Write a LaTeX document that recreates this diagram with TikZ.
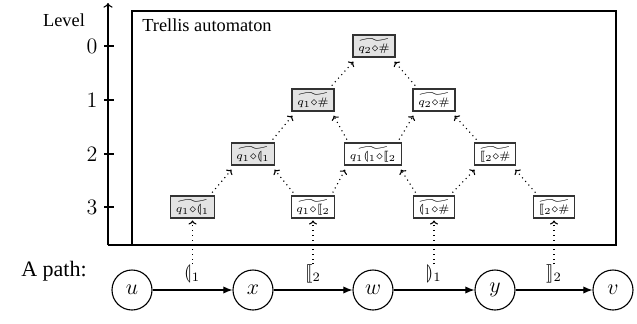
\documentclass[tikz,border=0pt]{standalone}
\usepackage[no-math]{fontspec}
\setmainfont{Liberation Serif}
\usepackage{amsmath,amssymb}
\usepackage{stmaryrd}
\usetikzlibrary{arrows.meta}
\newcommand{\dmd}{\mathord{\diamond}}
\tikzset{
  tbox/.style={draw=black!80, line width=0.7pt, font=\fontsize{6}{7}\selectfont,
    inner xsep=2.8pt, inner ysep=1pt, minimum height=12pt},
  tshade/.style={tbox, fill=gray!22},
  pnode/.style={circle, draw, line width=0.6pt, minimum size=21.8pt, inner sep=0pt,
    font=\fontsize{12}{14}\selectfont},
  trarrow/.style={dotted, line width=0.6pt, -{To[length=2.2pt,width=4.4pt]}},
  upar/.style={dotted, line width=0.6pt, -{To[length=2.2pt,width=4.4pt]}, shorten >=1pt},
  patharrow/.style={line width=0.6pt, -{Latex[length=5pt,width=4pt]}},
  plab/.style={inner sep=0pt, font=\fontsize{10}{12}\selectfont},
  lvl/.style={inner sep=0pt, font=\fontsize{12}{14}\selectfont},
  txt/.style={inner sep=0pt, font=\fontsize{10}{12}\selectfont},
}
\begin{document}
\begin{tikzpicture}[x=0.545pt, y=-0.545pt]
\useasboundingbox (0,0) rectangle (637,323);
% axis
\coordinate (ax0) at (108,245);
\coordinate (ax1) at (108,3);
\coordinate (bx0) at (132,11);
\coordinate (bx1) at (616,245);
\draw[line width=0.6pt, -{To[length=2.5pt,width=5pt]}] (ax0) -- (ax1);
\draw[line width=0.6pt] (ax0) -- (bx0 |- ax0);
\draw[line width=0.6pt] (bx0) rectangle (bx1);
\node[txt] (levtxt) at (64,20) {Level};
\node[txt, anchor=west] (title) at (142,25) {Trellis automaton};
\foreach \l/\yy in {0/46,1/100,2/154,3/207}{
  \coordinate (tk\l) at (108,\yy);
  \draw[line width=0.6pt] ([xshift=-2pt]tk\l) -- ([xshift=3pt]tk\l);
  \node[lvl] (lv\l) at (92,\yy) {$\l$};
}
% trellis nodes
\node[tshade] (a00) at (374,46) {$\widetilde{q_2\dmd\#}$};
\node[tshade] (a10) at (313,100) {$\widetilde{q_1\dmd\#}$};
\node[tbox]   (a11) at (434,100) {$\widetilde{q_2\dmd\#}$};
\node[tshade] (a20) at (253,154) {$\widetilde{q_1\dmd\llparenthesis_1}$};
\node[tbox]   (a21) at (373,154) {$\widetilde{q_1\llparenthesis_1\dmd\llbracket_2}$};
\node[tbox]   (a22) at (495,154) {$\widetilde{\llbracket_2\dmd\#}$};
\node[tshade] (a30) at (192.5,207) {$\widetilde{q_1\dmd\llparenthesis_1}$};
\node[tbox]   (a31) at (313,207) {$\widetilde{q_1\dmd\llbracket_2}$};
\node[tbox]   (a32) at (434,207) {$\widetilde{\llparenthesis_1\dmd\#}$};
\node[tbox]   (a33) at (554,207) {$\widetilde{\llbracket_2\dmd\#}$};
% trellis arrows
\foreach \lo/\up in {a30/a20,a31/a21,a32/a22,a20/a10,a21/a11,a10/a00}{
  \draw[trarrow] ([xshift=-1.5pt,yshift=1.5pt]\lo.north east) -- ([xshift=0.5pt,yshift=-2.2pt]\up.south west);
}
\foreach \lo/\up in {a31/a20,a32/a21,a33/a22,a21/a10,a22/a11,a11/a00}{
  \draw[trarrow] ([xshift=1.5pt,yshift=1.5pt]\lo.north west) -- ([xshift=-0.5pt,yshift=-2.2pt]\up.south east);
}
% path
\node[txt, font=\fontsize{12}{14}\selectfont] (ptxt) at (54,271) {A path:};
\node[pnode] (u) at (132,290) {$u$};
\node[pnode] (x) at (253,290) {$x$};
\node[pnode] (w) at (373,290) {$w$};
\node[pnode] (y) at (495,290) {$y$};
\node[pnode] (v) at (613,290) {$v$};
\draw[patharrow] (u) -- (x);
\draw[patharrow] (x) -- (w);
\draw[patharrow] (w) -- (y);
\draw[patharrow] (y) -- (v);
\node[plab] (l1) at (192.5,274) {$\llparenthesis_1$};
\node[plab] (l2) at (313,274) {$\llbracket_2$};
\node[plab] (l3) at (434,274) {$\rrparenthesis_1$};
\node[plab] (l4) at (554,274) {$\rrbracket_2$};
\draw[upar] (l1.north -| a30) -- (a30.south);
\draw[upar] (l2.north -| a31) -- (a31.south);
\draw[upar] (l3.north -| a32) -- (a32.south);
\draw[upar] (l4.north -| a33) -- (a33.south);
\end{tikzpicture}
\end{document}
